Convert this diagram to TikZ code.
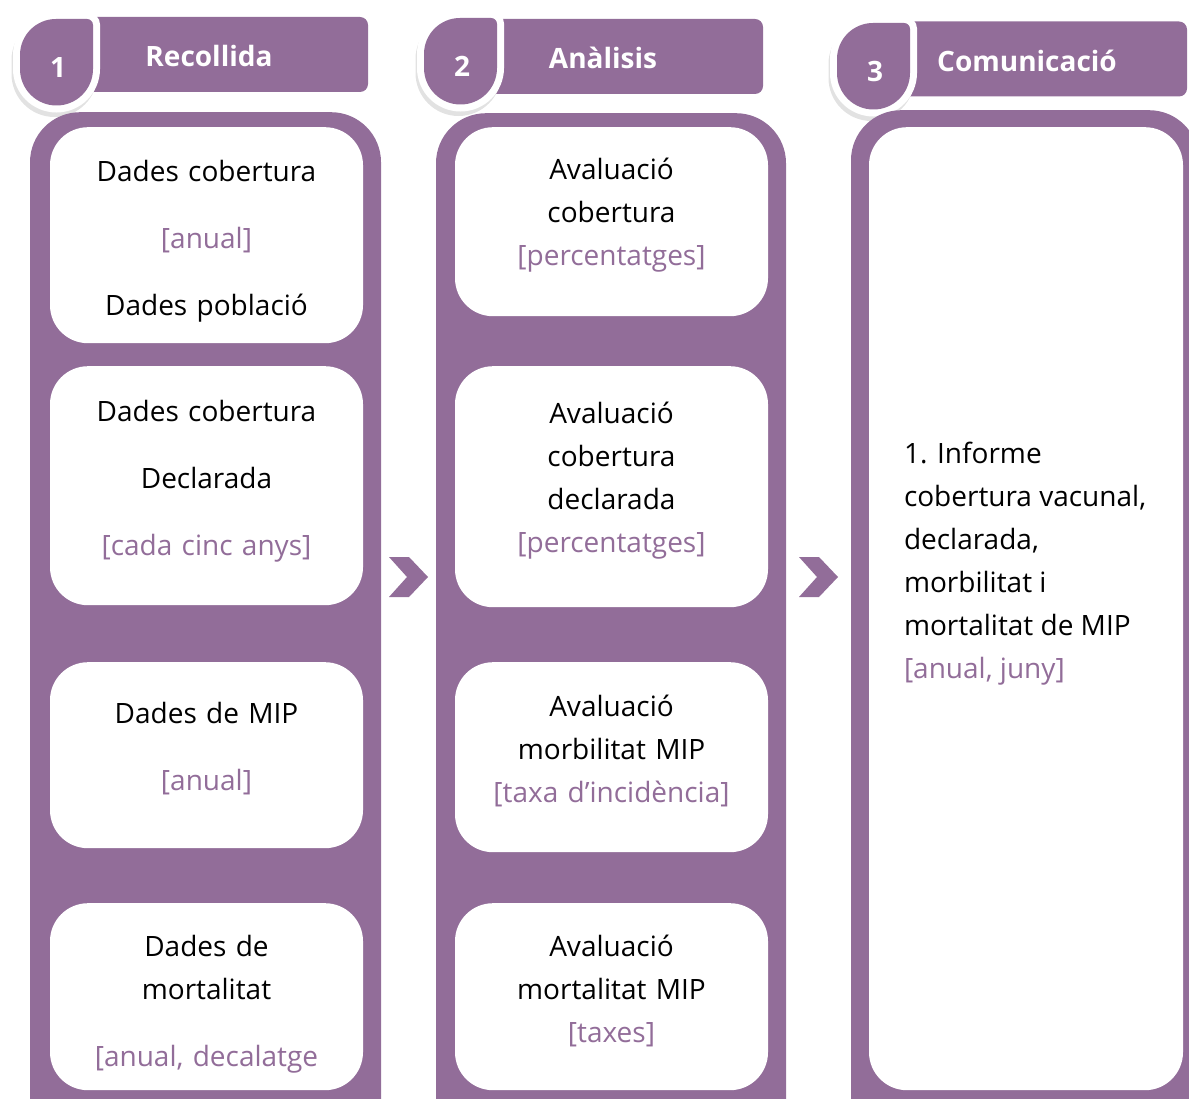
\documentclass[tikz,border=0pt]{standalone}
\usepackage{fontspec}
\setmainfont{Open Sans}
\usepackage{tikz}
\usetikzlibrary{positioning,calc}
\definecolor{mauve}{RGB}{146,109,153}
\definecolor{halo}{RGB}{226,226,226}
\newcommand\dropshape{(0,36) arc[start angle=180,end angle=270,radius=36] -- (67,0)
  arc[start angle=270,end angle=360,radius=6] -- (73,50)
  arc[start angle=0,end angle=180,radius=36.5] -- cycle}
\newcommand\freq[1]{{\color{mauve}#1}}
\tikzset{
  column/.style={fill=mauve,rounded corners=50pt,anchor=north,minimum height=1040pt},
  cell/.style={fill=white,rounded corners=38pt,anchor=north,minimum width=313pt},
  celltext/.style={text width=301pt,inner sep=0pt,align=center,
    font=\fontsize{28}{43}\selectfont},
  tab/.style={fill=mauve,rounded corners=8pt,minimum height=75pt,text=white,
    text height=25pt,text depth=0pt,font=\fontsize{28}{34}\selectfont\bfseries},
  num/.style={text=white,inner sep=0pt,font=\fontsize{28}{34}\selectfont\bfseries},
  drop/.pic={
    \path[draw=halo,fill=halo,line width=13pt,shift={(-2,5)}] \dropshape;
    \path[draw=white,fill=white,line width=14pt] \dropshape;
    \fill[mauve] \dropshape;
  },
  chevron/.pic={\fill[mauve] (-19.5,-20) -- (0.5,-20) -- (19.5,0) -- (0.5,20)
    -- (-19.5,20) -- (-1.5,0) -- cycle;}
}

\begin{document}
\begin{tikzpicture}[x=1pt,y=-1pt]
  \useasboundingbox (0,0) rectangle (1189,1099);
  \clip (0,0) rectangle (1189,1099);
  \node[tab,minimum width=318pt] (recollida) at (209,54.5) {Recollida};
  \node[tab,minimum width=320pt] (analisi) at (603,56.5) {Anàlisis};
  \node[tab,minimum width=320pt] (comunicacio) at (1027,59) {Comunicació};
  \foreach \dx/\dy/\n in {20/19/1,424/18/2,837/23/3} {
    \pic at (\dx,\dy) {drop};
    \node[num] (num\n) at ($(\dx,\dy)+(38,48.5)$) {\n};
  }
  \foreach \cx/\cw/\ct/\n in {205.5/351/112/1,611/350/113/2,1025/348/110/3}
    \node[column,minimum width=\cw pt] (col\n) at (\cx,\ct) {};
  \coordinate (gap1) at ($(col1.east)!0.5!(col2.west)$);
  \coordinate (gap2) at ($(col2.east)!0.5!(col3.west)$);
  \pic at (gap1 |- 0,577) {chevron};
  \pic at (gap2 |- 0,577) {chevron};

  \node[cell,minimum height=216pt] (cobertura) at (206.5,127) {};
  \node[celltext] (coberturatxt) at ([yshift=-6pt]cobertura.center)
    {Dades cobertura\\[24pt]\freq{[anual]}\\[24pt]Dades població};
  \node[cell,minimum height=239pt] (declarada) at (206.5,366) {};
  \node[celltext] (declaradatxt) at ([yshift=4pt]declarada.center)
    {Dades cobertura\\[24pt]Declarada\\[24pt]\freq{[cada cinc anys]}};
  \node[cell,minimum height=186pt] (mip) at (206.5,662) {};
  \node[celltext] (miptxt) at ([yshift=7pt]mip.center)
    {Dades de MIP\\[24pt]\freq{[anual]}};
  \node[cell,minimum height=187pt] (mortalitat) at (206.5,903) {};
  \node[celltext] (mortalitattxt) at ([yshift=-8pt]mortalitat.center)
    {Dades de\\mortalitat\\[24pt]\freq{[anual, decalatge}};

  \node[cell,minimum height=189pt] (avcobertura) at (611.5,127) {};
  \node[celltext] (avcoberturatxt) at ([yshift=7pt]avcobertura.center)
    {Avaluació\\cobertura\\\freq{[percentatges]}};
  \node[cell,minimum height=241pt] (avdeclarada) at (611.5,366) {};
  \node[celltext] (avdeclaradatxt) at ([yshift=6.5pt]avdeclarada.center)
    {Avaluació\\cobertura\\declarada\\\freq{[percentatges]}};
  \node[cell,minimum height=190pt] (avmorbilitat) at (611.5,662) {};
  \node[celltext] (avmorbilitattxt) at ([yshift=6.5pt]avmorbilitat.center)
    {Avaluació\\morbilitat MIP\\\freq{[taxa d’incidència]}};
  \node[cell,minimum height=187pt] (avmortalitat) at (611.5,903) {};
  \node[celltext] (avmortalitattxt) at ([yshift=5.5pt]avmortalitat.center)
    {Avaluació\\mortalitat MIP\\\freq{[taxes]}};

  \node[cell,minimum width=314pt,minimum height=963pt] (report) at (1026,127) {};
  \node[inner sep=0pt,align=left,font=\fontsize{28}{43}\selectfont,
    below right=315pt and 35pt of report.north west] (informe)
    {1. Informe\\cobertura vacunal,\\declarada,\\morbilitat i\\mortalitat de MIP\\\freq{[anual, juny]}};
\end{tikzpicture}
\end{document}
